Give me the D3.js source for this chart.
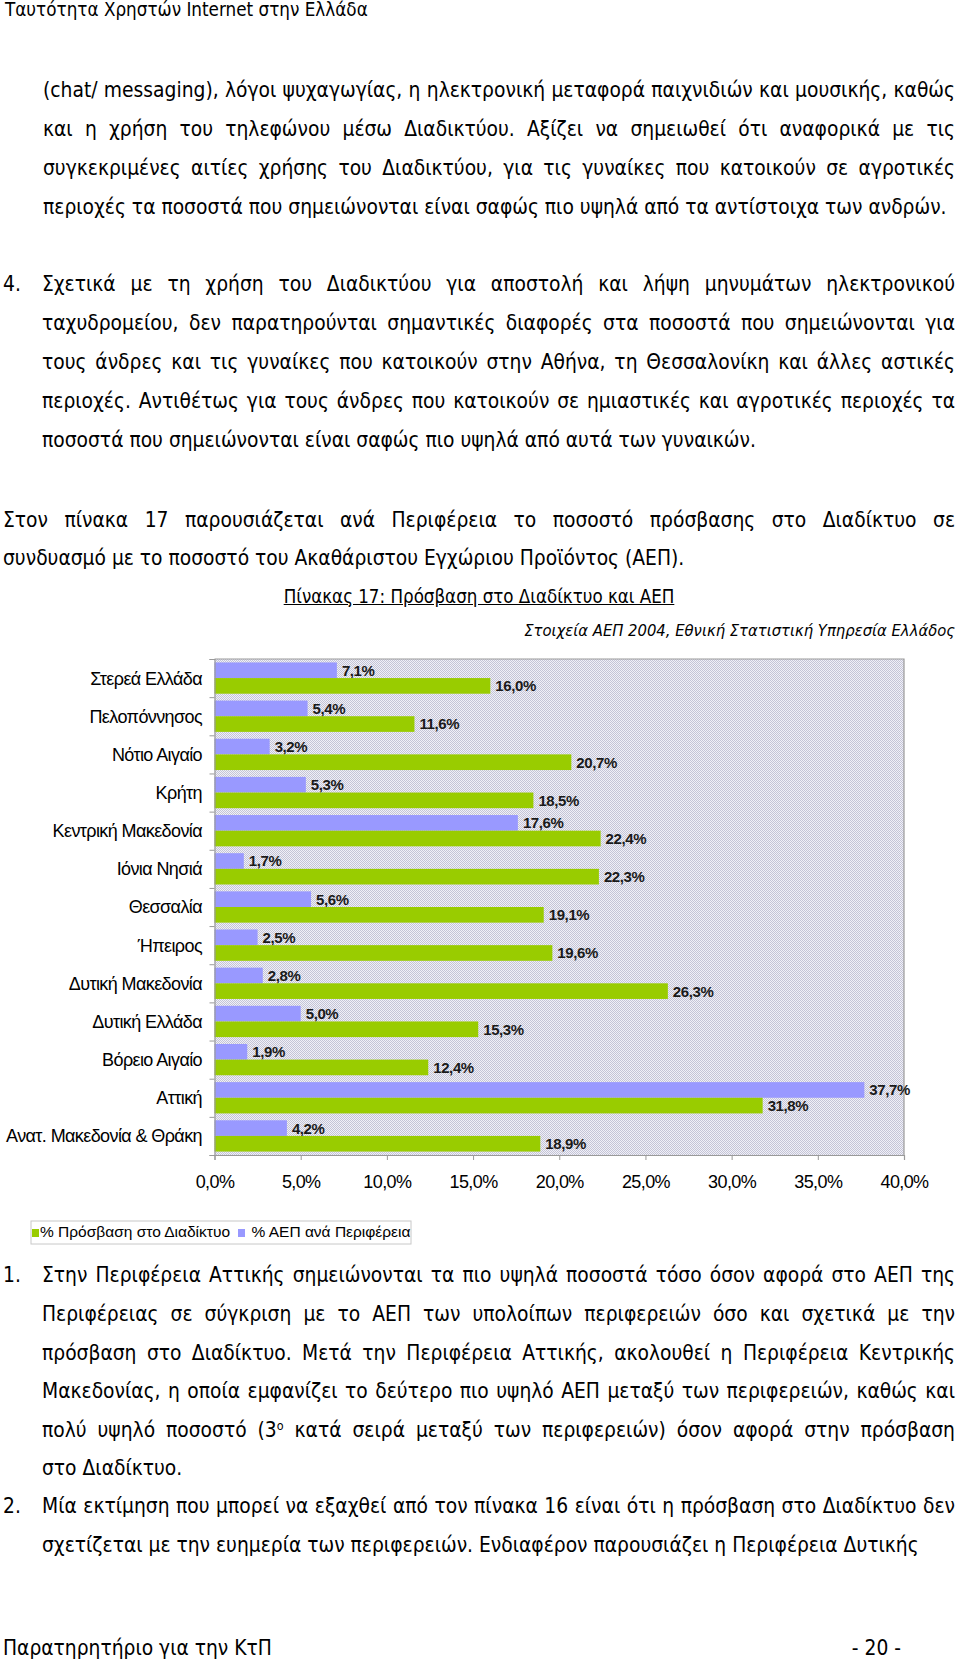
<!DOCTYPE html>
<html><head><meta charset="utf-8">
<script src="https://cdn.jsdelivr.net/npm/d3@7"></script>
<style>
html,body{margin:0;padding:0;background:#fff;}
body{width:960px;height:1659px;position:relative;overflow:hidden;font-family:"DejaVu Sans Condensed","DejaVu Sans",Verdana,sans-serif;font-stretch:condensed;color:#000;}
.ln{position:absolute;white-space:pre;line-height:20px;}
sup{font-size:0.6em;vertical-align:baseline;position:relative;top:-0.55em;}
svg{position:absolute;left:0;top:0;}
</style></head><body>
<script>
// ---------- chart data ----------
const regions = ["Στερεά Ελλάδα","Πελοπόννησος","Νότιο Αιγαίο","Κρήτη","Κεντρική Μακεδονία","Ιόνια Νησιά","Θεσσαλία","Ήπειρος","Δυτική Μακεδονία","Δυτική Ελλάδα","Βόρειο Αιγαίο","Αττική","Ανατ. Μακεδονία & Θράκη"];
const gdpShare = [7.1,5.4,3.2,5.3,17.6,1.7,5.6,2.5,2.8,5.0,1.9,37.7,4.2];
const internetAccess = [16.0,11.6,20.7,18.5,22.4,22.3,19.1,19.6,26.3,15.3,12.4,31.8,18.9];
const xTicks = [0,5,10,15,20,25,30,35,40];
const seriesNames = ["% Πρόσβαση στο Διαδίκτυο","% ΑΕΠ ανά Περιφέρεια"];
const seriesColors = ["#99cc00","#9999ff"];

// ---------- page text ----------
const headerText = "Ταυτότητα Χρηστών Internet στην Ελλάδα";
const para1 = ["(chat/ messaging), λόγοι ψυχαγωγίας, η ηλεκτρονική μεταφορά παιχνιδιών και μουσικής, καθώς",
 "και η χρήση του τηλεφώνου μέσω Διαδικτύου. Αξίζει να σημειωθεί ότι αναφορικά με τις",
 "συγκεκριμένες αιτίες χρήσης του Διαδικτύου, για τις γυναίκες που κατοικούν σε αγροτικές",
 "περιοχές τα ποσοστά που σημειώνονται είναι σαφώς πιο υψηλά από τα αντίστοιχα των ανδρών."];
const para4 = ["Σχετικά με τη χρήση του Διαδικτύου για αποστολή και λήψη μηνυμάτων ηλεκτρονικού",
 "ταχυδρομείου, δεν παρατηρούνται σημαντικές διαφορές στα ποσοστά που σημειώνονται για",
 "τους άνδρες και τις γυναίκες που κατοικούν στην Αθήνα, τη Θεσσαλονίκη και άλλες αστικές",
 "περιοχές. Αντιθέτως για τους άνδρες που κατοικούν σε ημιαστικές και αγροτικές περιοχές τα",
 "ποσοστά που σημειώνονται είναι σαφώς πιο υψηλά από αυτά των γυναικών."];
const paraIntro = ["Στον πίνακα 17 παρουσιάζεται ανά Περιφέρεια το ποσοστό πρόσβασης στο Διαδίκτυο σε",
 "συνδυασμό με το ποσοστό του Ακαθάριστου Εγχώριου Προϊόντος (ΑΕΠ)."];
const tableTitle = "Πίνακας 17: Πρόσβαση στο Διαδίκτυο και ΑΕΠ";
const sourceText = "Στοιχεία ΑΕΠ 2004, Εθνική Στατιστική Υπηρεσία Ελλάδος";
const item1 = ["Στην Περιφέρεια Αττικής σημειώνονται τα πιο υψηλά ποσοστά τόσο όσον αφορά στο ΑΕΠ της",
 "Περιφέρειας σε σύγκριση με το ΑΕΠ των υπολοίπων περιφερειών όσο και σχετικά με την",
 "πρόσβαση στο Διαδίκτυο. Μετά την Περιφέρεια Αττικής, ακολουθεί η Περιφέρεια Κεντρικής",
 "Μακεδονίας, η οποία εμφανίζει το δεύτερο πιο υψηλό ΑΕΠ μεταξύ των περιφερειών, καθώς και",
 "πολύ υψηλό ποσοστό (3<sup>ο</sup> κατά σειρά μεταξύ των περιφερειών) όσον αφορά στην πρόσβαση",
 "στο Διαδίκτυο."];
const item2 = ["Μία εκτίμηση που μπορεί να εξαχθεί από τον πίνακα 16 είναι ότι η πρόσβαση στο Διαδίκτυο δεν",
 "σχετίζεται με την ευημερία των περιφερειών. Ενδιαφέρον παρουσιάζει η Περιφέρεια Δυτικής"];
const footerLeft = "Παρατηρητήριο για την ΚτΠ";
const footerRight = "- 20 -";

// ---------- text layout helpers ----------
const body = d3.select("body");
function mk(html, opts){
  const d = body.append("div").attr("class","ln").html(html);
  if(opts.italic) d.style("font-style","italic");
  if(opts.underline) d.style("text-decoration","underline");
  return d;
}
function widthAt(html, fs, opts){
  const d = mk(html, opts||{}).style("font-size", fs+"px").style("left","0px").style("top","-200px");
  const w = d.node().getBoundingClientRect().width; d.remove(); return w;
}
function fitSize(html, target, opts){ return 100*target/widthAt(html,100,opts); }
function place(html, fs, x, cy, opts){
  opts = opts||{};
  const d = mk(html, opts).style("font-size", fs+"px").style("top",(cy-10-0.073*fs)+"px");
  const w = d.node().getBoundingClientRect().width;
  if(opts.justifyTo){
    const n = (d.node().textContent.match(/ /g)||[]).length;
    if(n>0) d.style("word-spacing", ((opts.justifyTo - x - w)/n)+"px");
  }
  if(opts.anchor==="end") d.style("left",(x-w)+"px");
  else if(opts.anchor==="middle") d.style("left",(x-w/2)+"px");
  else d.style("left",x+"px");
  return d;
}
const R = 955;
const fs = fitSize(para1[3], 904);
function paragraph(lines, x, cy0, step){
  lines.forEach((t,i)=>place(t, fs, x, cy0+i*step, i<lines.length-1?{justifyTo:R}:{}));
}
place(headerText, fitSize(headerText,363), 5, 11.5);
paragraph(para1, 43, 92, 38.8);
place("4.", fs, 3, 286);
paragraph(para4, 42, 286, 39);
paragraph(paraIntro, 3, 522, 38);
place(tableTitle, fitSize(tableTitle,391,{underline:true}), 479, 598, {underline:true, anchor:"middle"});
place(sourceText, fitSize(sourceText,431,{italic:true}), R, 632, {italic:true, anchor:"end"});
place("1.", fs, 3, 1277);
paragraph(item1, 42, 1277, 38.6);
place("2.", fs, 3, 1508);
paragraph(item2, 42, 1508, 39);
const ffs = fitSize(footerLeft, 269);
place(footerLeft, ffs, 3, 1650);
place(footerRight, ffs, 901, 1650, {anchor:"end"});

// ---------- chart ----------
const svg = body.append("svg").attr("width",960).attr("height",1659);
const plot = {left:214.5, right:904, top:659, bottom:1155};
const x = d3.scaleLinear().domain([0,40]).range([plot.left, plot.right]);
const y = d3.scaleBand().domain(regions).range([plot.top, plot.bottom]).paddingInner(0.18).paddingOuter(0.09);
const sub = d3.scaleBand().domain([1,0]).range([0, y.bandwidth()]);
const series = [internetAccess, gdpShare];

const defs = svg.append("defs");
const pat = defs.append("pattern").attr("id","dots").attr("width",2).attr("height",2).attr("patternUnits","userSpaceOnUse");
pat.append("rect").attr("width",2).attr("height",2).attr("fill","#f0f0f7");
pat.append("rect").attr("width",1).attr("height",1).attr("fill","#c4c4d6");
pat.append("rect").attr("x",1).attr("y",1).attr("width",1).attr("height",1).attr("fill","#c4c4d6");

svg.append("rect").attr("x",plot.left).attr("y",plot.top).attr("width",plot.right-plot.left).attr("height",plot.bottom-plot.top).attr("fill","url(#dots)");
svg.append("path").attr("d",`M${plot.left},${plot.top}H${plot.right}V${plot.bottom}`).attr("fill","none").attr("stroke","#9a9a9a").attr("stroke-width",1.2);

// bars
const groups = svg.append("g").selectAll("g").data(regions).join("g").attr("transform",d=>`translate(0,${y(d)})`);
[1,0].forEach(s=>{
  groups.append("rect")
    .attr("x", x(0))
    .attr("y", sub(s))
    .attr("width", (d,i)=>x(series[s][i])-x(0))
    .attr("height", sub.bandwidth())
    .attr("fill", seriesColors[s]);
  groups.append("text")
    .attr("x", (d,i)=>x(series[s][i])+5)
    .attr("y", sub(s)+sub.bandwidth()/2)
    .attr("dy","0.36em")
    .attr("font-family","'Liberation Sans',Arial,sans-serif")
    .attr("font-weight","bold").attr("font-size",15).attr("letter-spacing",-0.4)
    .attr("fill","#1a1a1a")
    .text((d,i)=>series[s][i].toFixed(1).replace(".",",")+"%");
});

// category labels
svg.append("g").selectAll("text").data(regions).join("text")
  .attr("x", 202).attr("y", d=>y(d)+y.bandwidth()/2).attr("dy","0.36em")
  .attr("text-anchor","end")
  .attr("font-family","'Liberation Sans',Arial,sans-serif").attr("font-size",18).attr("letter-spacing",-0.6)
  .attr("fill","#000").text(d=>d);

// left axis with ticks at category boundaries
const rowIdx = d3.scaleLinear().domain([0,regions.length]).range([plot.top, plot.bottom]);
const la = svg.append("g").attr("transform",`translate(${plot.left},0)`)
  .call(d3.axisLeft(rowIdx).tickValues(d3.range(regions.length+1)).tickSize(5).tickFormat(""));
la.select(".domain").attr("stroke","#9a9a9a").attr("stroke-width",1.2);
la.selectAll(".tick line").attr("stroke","#9a9a9a");

// bottom axis
const ba = svg.append("g").attr("transform",`translate(0,${plot.bottom})`)
  .call(d3.axisBottom(x).tickValues(xTicks).tickSize(5).tickPadding(15).tickFormat(d=>d.toFixed(1).replace(".",",")+"%"));
ba.select(".domain").attr("stroke","#9a9a9a").attr("stroke-width",1.2);
ba.selectAll(".tick line").attr("stroke","#9a9a9a");
ba.selectAll(".tick text").attr("font-family","'Liberation Sans',Arial,sans-serif").attr("font-size",18).attr("letter-spacing",-0.6).attr("fill","#000");

// legend
const lg = svg.append("g");
lg.append("rect").attr("x",31).attr("y",1221).attr("width",380).attr("height",23).attr("fill","#fff").attr("stroke","#c8c8c8");
const legX = [[32,40],[238,251.5]];
seriesNames.forEach((n,i)=>{
  lg.append("rect").attr("x",legX[i][0]).attr("y",1229).attr("width",7).attr("height",8).attr("fill",seriesColors[i]);
  lg.append("text").attr("x",legX[i][1]).attr("y",1237).attr("font-family","'Liberation Sans',Arial,sans-serif")
    .attr("font-size",15.5).attr("fill","#000").text(n);
});
</script>
</body></html>
